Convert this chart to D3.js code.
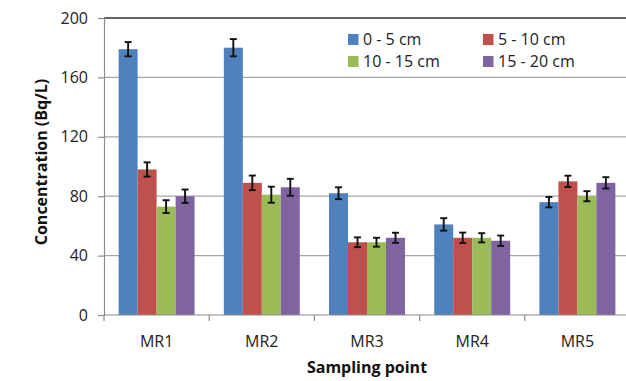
<!DOCTYPE html>
<html>
<head>
<meta charset="utf-8">
<script src="https://cdn.jsdelivr.net/npm/d3@7/dist/d3.min.js"></script>
<style>
  html, body { margin: 0; padding: 0; background: #fff; }
  svg { display: block; font-family: "Open Sans", "Noto Sans", sans-serif; }
</style>
</head>
<body>
<svg id="chart" width="626" height="381"></svg>
<script>
// Sampling points and soil depth layers
const categories = ["MR1", "MR2", "MR3", "MR4", "MR5"];
const seriesNames = ["0 - 5 cm", "5 - 10 cm", "10 - 15 cm", "15 - 20 cm"];
const seriesColors = ["#4F81BD", "#C0504D", "#9BBB59", "#8064A2"];

// Mean concentration (Bq/L) per depth layer, one entry per sampling point
const depth0to5 = [179, 180, 82, 61, 76];
const depth5to10 = [98, 89, 49, 52, 90];
const depth10to15 = [73, 81, 49, 52, 80];
const depth15to20 = [80, 86, 52, 50, 89];

// Error bar half-widths (Bq/L)
const err0to5 = [4.8, 5.8, 4.0, 4.2, 3.5];
const err5to10 = [4.8, 4.9, 3.3, 3.5, 3.8];
const err10to15 = [4.3, 5.4, 3.0, 3.1, 3.4];
const err15to20 = [4.5, 5.7, 3.4, 3.5, 3.8];

const yTicks = [0, 40, 80, 120, 160, 200];

const values = [depth0to5, depth5to10, depth10to15, depth15to20];
const errors = [err0to5, err5to10, err10to15, err15to20];

const svg = d3.select("#chart");
const plot = { left: 104, top: 18, right: 630, bottom: 315 };

const x = d3.scaleBand().domain(categories).range([plot.left, plot.right]).paddingInner(0).paddingOuter(0);
const groupFrac = 0.722;
const xSeries = d3.scaleBand().domain(d3.range(seriesNames.length))
  .range([0, x.bandwidth() * groupFrac]);
const groupOffset = x.bandwidth() * (1 - groupFrac) / 2;
const y = d3.scaleLinear().domain([0, 200]).range([plot.bottom, plot.top]);

// Horizontal gridlines
svg.append("g")
  .selectAll("line")
  .data(yTicks.filter(t => t > 0 && t < 200))
  .join("line")
  .attr("x1", plot.left).attr("x2", plot.right)
  .attr("y1", d => y(d)).attr("y2", d => y(d))
  .attr("stroke", "#a6a6a6").attr("stroke-width", 1.2);

// Plot area top border
svg.append("line")
  .attr("x1", plot.left).attr("x2", plot.right)
  .attr("y1", y(200)).attr("y2", y(200))
  .attr("stroke", "#333").attr("stroke-width", 1.3);

// Bars
const rows = [];
values.forEach((arr, s) => arr.forEach((v, i) => rows.push({ s, cat: categories[i], v, e: errors[s][i] })));

svg.append("g")
  .selectAll("rect")
  .data(rows)
  .join("rect")
  .attr("x", d => x(d.cat) + groupOffset + xSeries(d.s))
  .attr("y", d => y(d.v))
  .attr("width", xSeries.bandwidth())
  .attr("height", d => y(0) - y(d.v))
  .attr("fill", d => seriesColors[d.s]);

// Error bars
const eb = svg.append("g").attr("stroke", "#111").attr("stroke-width", 1.9);
rows.forEach(d => {
  const cx = x(d.cat) + groupOffset + xSeries(d.s) + xSeries.bandwidth() / 2;
  const y1 = y(d.v + d.e), y2 = y(d.v - d.e);
  eb.append("line").attr("x1", cx).attr("x2", cx).attr("y1", y1).attr("y2", y2);
  eb.append("line").attr("x1", cx - 3.5).attr("x2", cx + 3.5).attr("y1", y1).attr("y2", y1);
  eb.append("line").attr("x1", cx - 3.5).attr("x2", cx + 3.5).attr("y1", y2).attr("y2", y2);
});

// Y axis
const yAxis = svg.append("g")
  .attr("transform", `translate(${plot.left},0)`)
  .call(d3.axisLeft(y).tickValues(yTicks).tickSize(6).tickPadding(10));
yAxis.select(".domain").attr("stroke", "#8c8c8c").attr("stroke-width", 1.2);
yAxis.selectAll(".tick line").attr("stroke", "#8c8c8c").attr("stroke-width", 1.2);
yAxis.selectAll(".tick text").attr("font-size", 16).attr("fill", "#222")
  .attr("font-family", "Open Sans, sans-serif");

// X axis with ticks on category boundaries
svg.append("line")
  .attr("x1", plot.left).attr("x2", plot.right)
  .attr("y1", plot.bottom).attr("y2", plot.bottom)
  .attr("stroke", "#8c8c8c").attr("stroke-width", 1.2);
svg.append("g")
  .selectAll("line")
  .data(categories.concat(["end"]))
  .join("line")
  .attr("x1", (d, i) => plot.left + i * x.bandwidth())
  .attr("x2", (d, i) => plot.left + i * x.bandwidth())
  .attr("y1", plot.bottom).attr("y2", plot.bottom + 6)
  .attr("stroke", "#8c8c8c").attr("stroke-width", 1.2);
svg.append("g")
  .selectAll("text")
  .data(categories)
  .join("text")
  .attr("x", d => x(d) + x.bandwidth() / 2)
  .attr("y", 347)
  .attr("text-anchor", "middle")
  .attr("font-size", 16).attr("fill", "#222")
  .text(d => d);

// Axis titles
svg.append("text")
  .attr("x", 367).attr("y", 373)
  .attr("text-anchor", "middle")
  .attr("font-size", 16).attr("font-weight", "bold").attr("fill", "#111")
  .text("Sampling point");
svg.append("text")
  .attr("transform", `translate(47,162) rotate(-90)`)
  .attr("text-anchor", "middle")
  .attr("font-size", 16).attr("font-weight", "bold").attr("fill", "#111")
  .text("Concentration (Bq/L)");

// Legend
const legendPos = [[348, 34], [483, 34], [348, 56], [483, 56]];
const legend = svg.append("g");
seriesNames.forEach((name, i) => {
  const [lx, ly] = legendPos[i];
  legend.append("rect").attr("x", lx).attr("y", ly).attr("width", 10.5).attr("height", 11)
    .attr("fill", seriesColors[i]);
  legend.append("text").attr("x", lx + 15).attr("y", ly + 11)
    .attr("font-size", 16).attr("fill", "#222").text(name);
});
</script>
</body>
</html>
